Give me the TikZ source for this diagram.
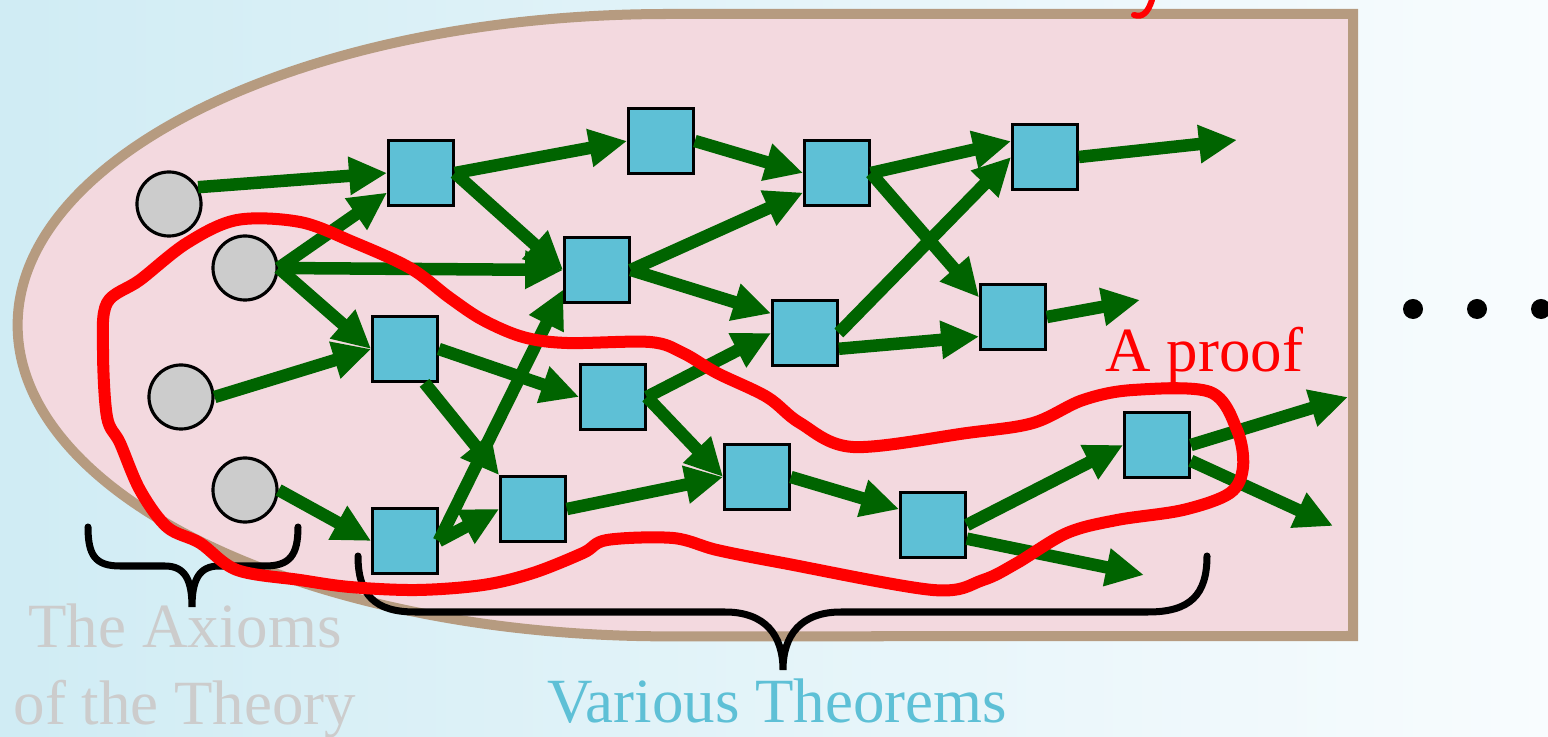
\documentclass[tikz,border=0pt]{standalone}
\usepackage{fontspec}
\setmainfont{Liberation Serif}
\usetikzlibrary{arrows, arrows.meta}

\definecolor{impgreen}{RGB}{0,100,0}
\definecolor{thmblue}{RGB}{94,192,214}
\definecolor{axgray}{RGB}{204,204,204}
\definecolor{regionpink}{RGB}{243,217,223}
\definecolor{regionrim}{RGB}{182,155,128}
\definecolor{bgleft}{RGB}{208,236,244}
\definecolor{bgright}{RGB}{248,252,254}

\begin{document}
\begin{tikzpicture}[x=0.01cm,y=-0.01cm,
		axiom/.style={circle, draw=black, line width=0.9pt, fill=axgray, minimum size=0.64cm, inner sep=0pt},
		thm/.style={rectangle, draw=black, line width=0.9pt, fill=thmblue, minimum size=0.645cm, inner sep=0pt},
		imp/.style={draw=impgreen, line width=0.125cm, -{Triangle[length=0.38cm,width=0.36cm]}},
		bracket/.style={draw=black, line width=0.07cm, line cap=round},
		bigtext/.style={inner sep=0pt, font=\fontsize{17.9pt}{22pt}\selectfont}]
		\useasboundingbox (0,0) rectangle (1548,737);
		\shade[left color=bgleft, right color=bgright] (0,0) rectangle (1548,737);
		% region of the theory
		\filldraw[fill=regionpink, draw=regionrim, line width=0.1cm] (1353,14) -- (668,14)
			arc[start angle=90, end angle=270, x radius=6.5cm, y radius=3.11cm] -- (1353,636) -- cycle;
		% axioms
		\node[axiom] (a1) at (169,204) {};
		\node[axiom] (a2) at (245,268) {};
		\node[axiom] (a3) at (181,397) {};
		\node[axiom] (a4) at (245,490) {};
		% theorems
		\node[thm] (t1) at (421,173) {};
		\node[thm] (t2) at (661,141) {};
		\node[thm] (t3) at (597,270) {};
		\node[thm] (t4) at (405,349) {};
		\node[thm] (t5) at (613,397) {};
		\node[thm] (t6) at (533,509) {};
		\node[thm] (t7) at (405,541) {};
		\node[thm] (t8) at (757,477) {};
		\node[thm] (t9) at (837,173) {};
		\node[thm] (t10) at (1045,157) {};
		\node[thm] (t11) at (805,333) {};
		\node[thm] (t12) at (1013,317) {};
		\node[thm] (t13) at (933,525) {};
		\node[thm] (t14) at (1157,445) {};
		\coordinate (e1) at (1237,140);
		\coordinate (e2) at (1140,300);
		\coordinate (e3) at (1144,575);
		\coordinate (e4) at (1348,397);
		\coordinate (e5) at (1333,526);
		% implications
		\foreach \src/\dst in {a1.30/t1.west, a2.east/t1.-150, a2.east/t3.west, a2.east/t4.west,
				a3.east/t4.west, a4.east/t7.west, t1.east/t2.west, t1.east/t3.west,
				t2.east/t9.west, t3.east/t9.-150, t3.east/t11.150, t4.east/t5.west,
				t4.-60/t6.north west, t7.east/t3.-150, t7.east/t6.west, t5.east/t11.west,
				t5.east/t8.west, t6.east/t8.west, t9.east/t10.155, t9.east/t12.150,
				t11.east/t10.west, t11.-25/t12.-150, t10.east/e1, t12.east/e2,
				t8.east/t13.155, t13.east/t14.west, t13.-22/e3, t14.east/e4, t14.-25/e5}
			\draw[imp] (\src) -- (\dst);
		% braces
		\draw[bracket] (88,527) .. controls (88,555) and (95,566) .. (120,566) -- (165,566)
			.. controls (185,566) and (192,580) .. (192,607) .. controls (192,580) and (199,566) .. (219,566)
			-- (265,566) .. controls (290,566) and (298,555) .. (298,527);
		\draw[bracket] (358,556) .. controls (358,595) and (375,612) .. (415,612) -- (725,612)
			.. controls (765,612) and (783,635) .. (783,670) .. controls (783,635) and (801,612) .. (841,612)
			-- (1148,612) .. controls (1190,612) and (1207,595) .. (1207,556);
		% the proof
		\draw[red, line width=0.12cm, line join=round] plot[smooth cycle, tension=0.55] coordinates {
			(237,220) (300,222) (353,242) (410,268) (450,298) (483,320) (523,337) (567,343)
			(650,342) (683,353) (717,373) (767,397) (800,423) (853,447) (967,433) (1033,423)
			(1083,400) (1133,390) (1210,392) (1237,430) (1243,467) (1230,493) (1183,510)
			(1117,520) (1067,533) (1017,563) (983,580) (933,590) (783,563) (717,550) (673,538)
			(607,540) (583,553) (533,573) (483,585) (417,590) (350,587) (300,580) (237,570)
			(200,543) (167,527) (140,490) (120,443) (107,417) (103,350) (107,303) (140,280) (187,243)};
		\draw[red, line width=0.06cm, line cap=round] (1152,0) .. controls (1148,12) and (1143,18) .. (1134,15);
		% labels
		\node[bigtext, text=red, anchor=base west] (prooflabel) at (1105,372) {A proof};
		\node[bigtext, text=axgray, anchor=base] (axlabel1) at (185,647) {The Axioms};
		\node[bigtext, text=axgray, anchor=base] (axlabel2) at (185,725) {of the Theory};
		\node[bigtext, text=thmblue, anchor=base] (thmlabel) at (777,722) {Various Theorems};
		\fill (1413,309) circle(0.1cm);
		\fill (1477,309) circle(0.1cm);
		\fill (1541,309) circle(0.1cm);
	\end{tikzpicture}
\end{document}
